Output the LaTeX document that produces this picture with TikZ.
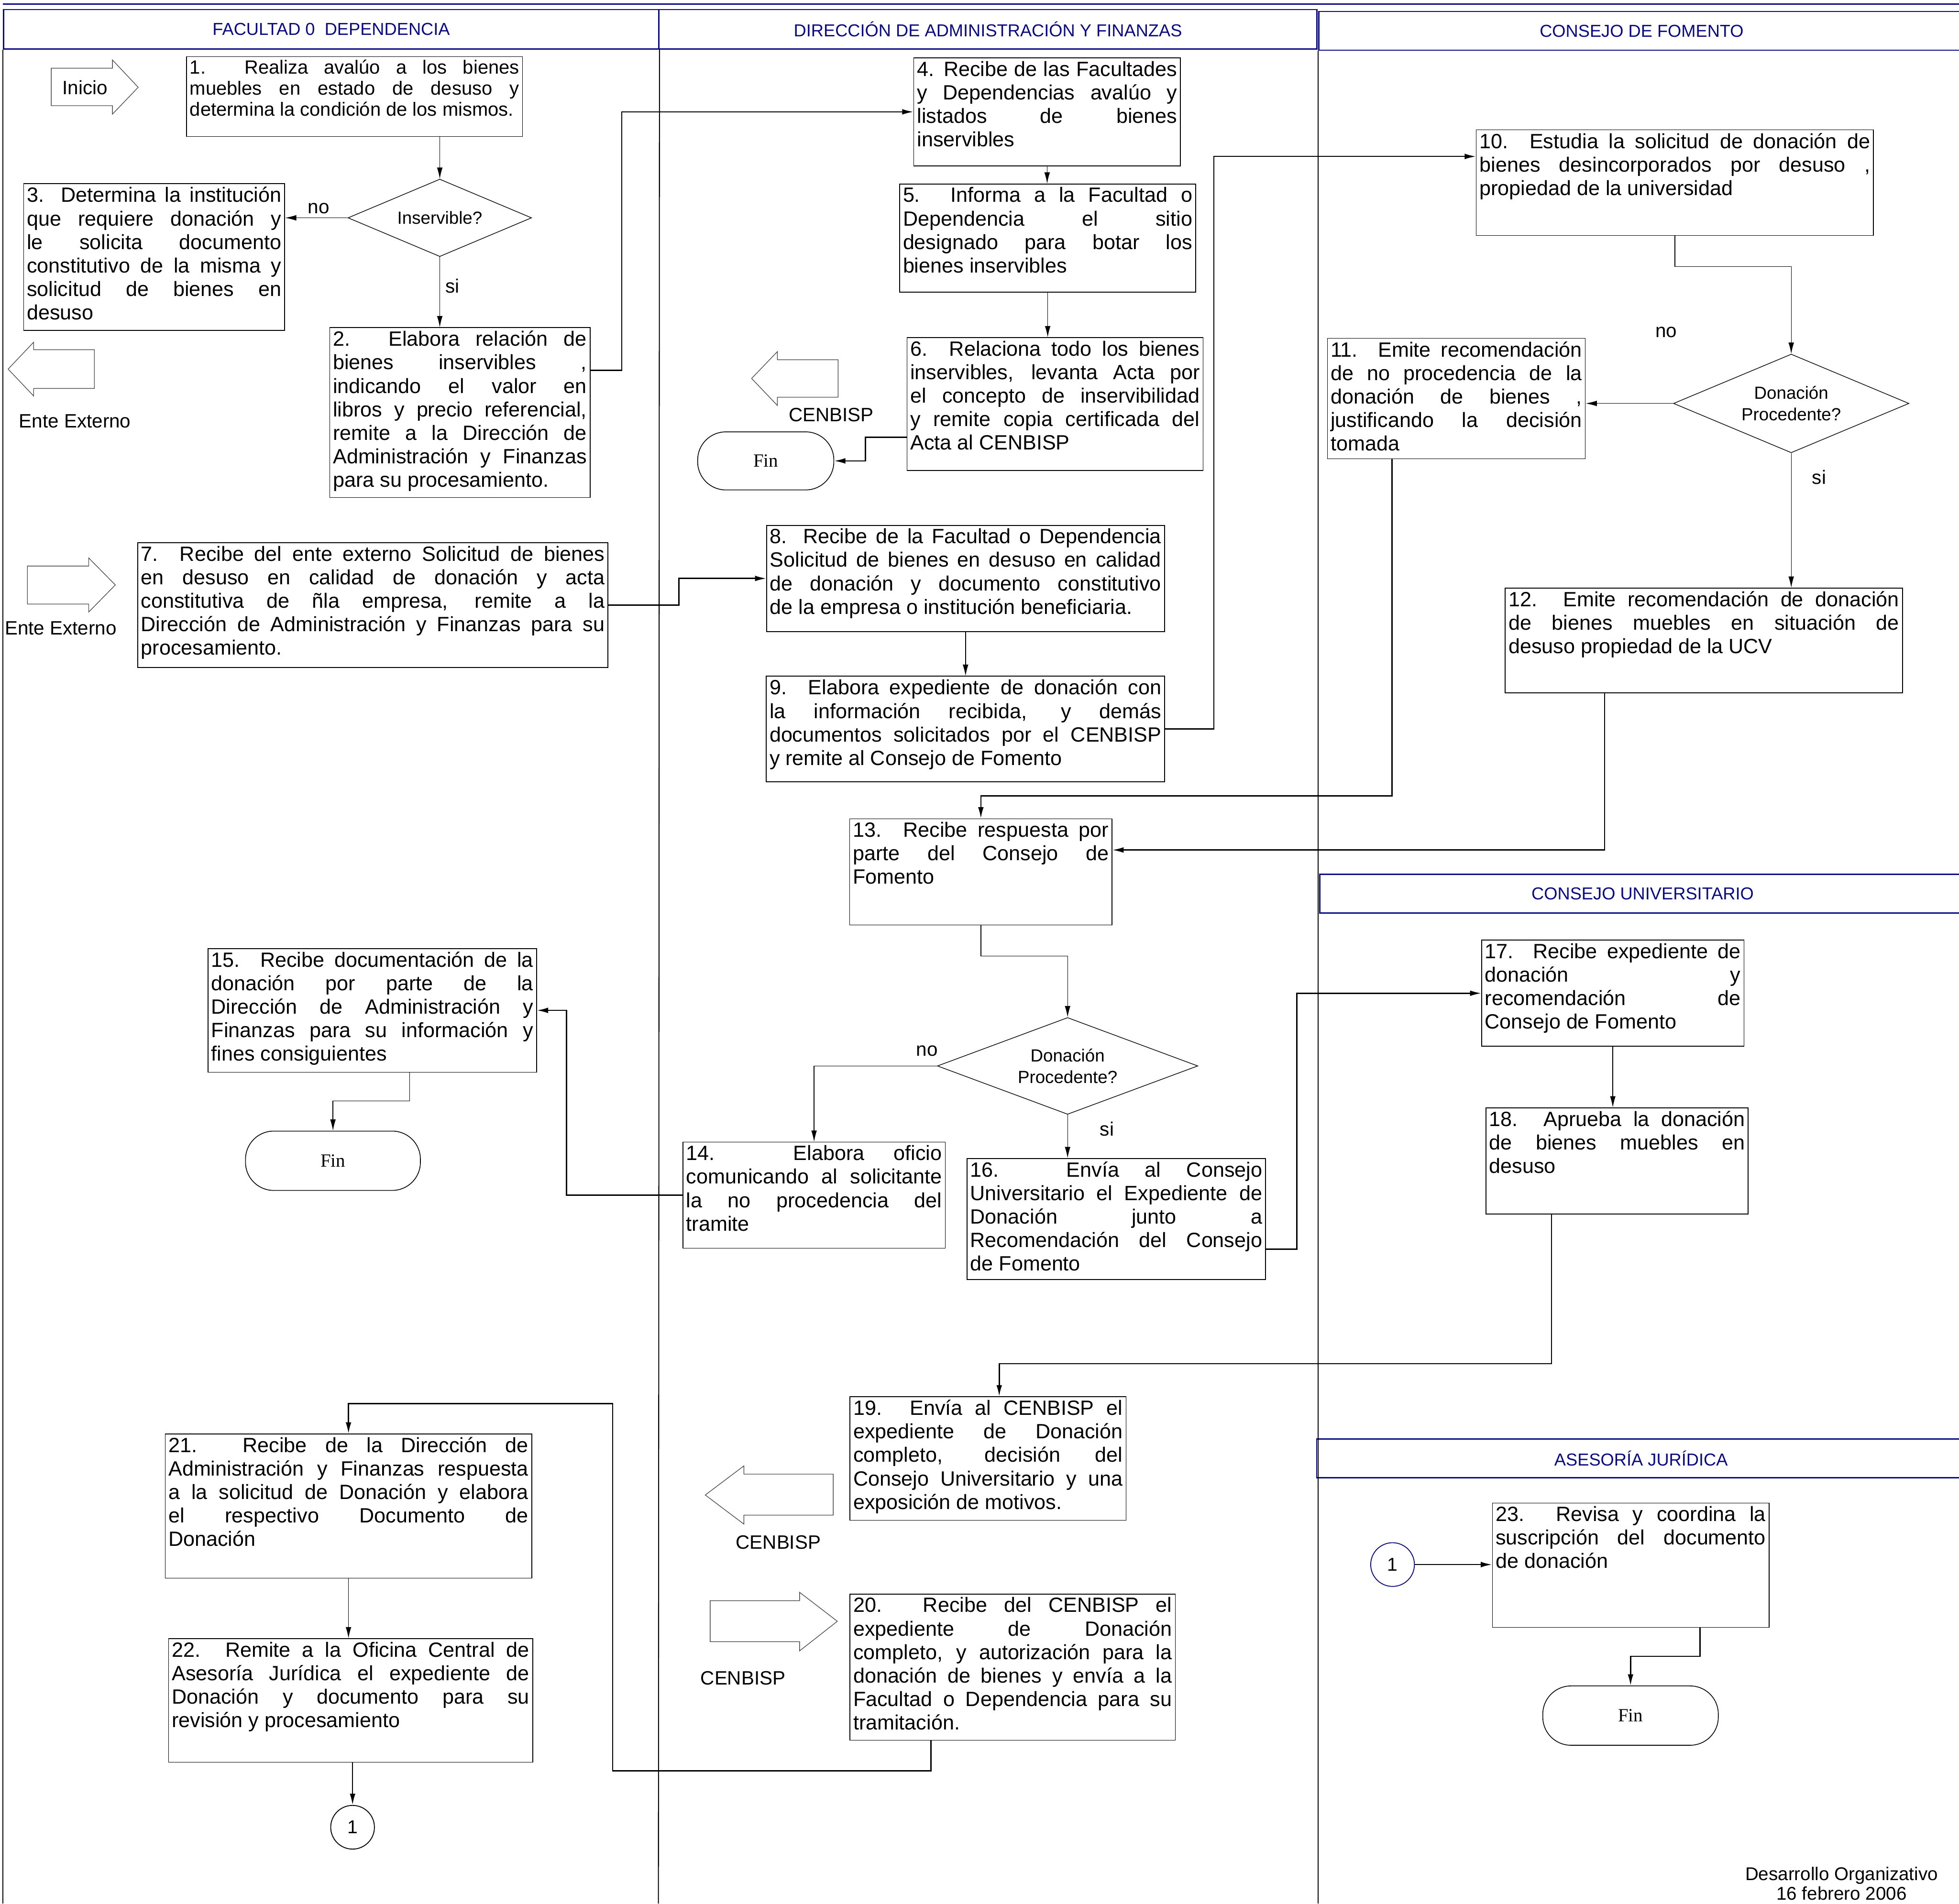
\documentclass[tikz,border=0pt]{standalone}
\usepackage{fontspec}
\setmainfont{Liberation Sans}
\newfontfamily\finfont{Liberation Serif}
\usetikzlibrary{shapes.geometric,arrows.meta}
\definecolor{azulcab}{RGB}{10,10,130}
\newcommand{\caja}[3]{\parbox[c][\dimexpr#2cm-3pt\relax][t]{\dimexpr#1cm-3pt\relax}{\hyphenpenalty=10000\tolerance=10000 #3}}
\tikzset{
  paso/.style={draw, line width=0.35pt, anchor=north west, inner sep=1.5pt, font=\fontsize{9.4}{10.7}\selectfont},
  carril/.style={draw=azulcab, text=azulcab, line width=0.6pt, anchor=north west, inner sep=0pt, minimum height=0.63cm, font=\fontsize{7.9}{9}\selectfont},
  decision/.style={draw, diamond, aspect=2.4, inner sep=0pt, line width=0.3pt, align=center, font=\fontsize{8}{9.8}\selectfont},
  terminal/.style={draw, rectangle, rounded corners=0.45cm, line width=0.35pt, font=\finfont\fontsize{8.5}{10}\selectfont},
  conector/.style={draw, circle, minimum size=0.7cm, inner sep=0pt, line width=0.4pt, font=\fontsize{8.5}{9}\selectfont},
  etiqueta/.style={inner sep=0pt, font=\fontsize{8.8}{9.5}\selectfont},
  bloque/.style={draw=black!70, line width=0.3pt},
  linea/.style={line width=0.45pt},
  flecha/.style={-{Latex[length=1.8mm,width=0.9mm]}, line width=0.55pt},
  flechafina/.style={-{Latex[length=1.8mm,width=0.9mm]}, line width=0.3pt}
}
\begin{document}
\begin{tikzpicture}[x=0.02cm, y=-0.02cm]
\useasboundingbox (0,0) rectangle (1568,1524);
\draw[azulcab, line width=0.6pt] (2.4,3.4) -- (1568,3.4);
\node[carril, minimum width=10.49cm] (c1) at (2.4,7.1) {FACULTAD 0 \ DEPENDENCIA};
\node[carril, minimum width=10.53cm] (c2) at (527,7.1) {DIRECCIÓN DE ADMINISTRACIÓN Y FINANZAS};
\node[carril, minimum width=10.34cm, minimum height=0.62cm] (c3) at (1055,8.7) {CONSEJO DE FOMENTO};
\node[carril, minimum width=10.34cm, minimum height=0.62cm] (c4) at (1055.8,699.5) {CONSEJO UNIVERSITARIO};
\node[carril, minimum width=10.39cm, minimum height=0.62cm] (c5) at (1053.3,1151.6) {ASESORÍA JURÍDICA};
\draw[linea] (c1.south west) -- (2.4,1524);
\draw[linea] (c1.south east) -- (527,1524);
\draw[linea] (c3.south west) -- (1055,1524);

\draw[bloque] (41,54.6) -- (90,54.6) -- (90,48) -- (110.6,69.9) -- (90,91.4) -- (90,84.6) -- (41,84.6) -- cycle;
\node[etiqueta] (inicio) at (68,70) {Inicio};
\node[paso] (p1) at (149,45) {\caja{5.38}{1.28}{\fontsize{8.7}{9.6}\selectfont 1. Realiza avalúo a los bienes\linebreak muebles en estado de desuso y\linebreak determina la condición de los mismos.}};
\node[decision, minimum width=2.94cm, minimum height=1.24cm] (d1) at (352,174.4) {Inservible?};
\node[paso] (p3) at (18.6,146.8) {\caja{4.18}{2.35}{3. Determina la institución\linebreak que requiere donación y\linebreak le solicita documento\linebreak constitutivo de la misma y\linebreak solicitud de bienes en\linebreak desuso}};
\node[paso] (p2) at (263.6,262) {\caja{4.17}{2.72}{2. Elabora relación de\linebreak bienes inservibles ,\linebreak indicando el valor en\linebreak libros y precio referencial,\linebreak remite a la Dirección de\linebreak Administración y Finanzas\linebreak para su procesamiento.}};
\draw[bloque] (75.5,280) -- (26.9,280) -- (26.9,274) -- (6.5,295.5) -- (26.9,317) -- (26.9,311) -- (75.5,311) -- cycle;
\node[etiqueta] (ext1) at (60,337) {Ente Externo};
\draw[bloque] (21.9,453.2) -- (71,453.2) -- (71,446.7) -- (92.3,468.3) -- (71,490) -- (71,483.6) -- (21.9,483.6) -- cycle;
\node[etiqueta] (ext2) at (48.6,503) {Ente Externo};
\node[paso] (p7) at (109.9,434.2) {\caja{7.53}{2.00}{7. Recibe del ente externo Solicitud de bienes\linebreak en desuso en calidad de donación y acta\linebreak constitutiva de ñla empresa, remite a la\linebreak Dirección de Administración y Finanzas para su\linebreak procesamiento.}};
\node[paso] (p15) at (166.2,759.1) {\caja{5.26}{1.98}{15. Recibe documentación de la\linebreak donación por parte de la\linebreak Dirección de Administración y\linebreak Finanzas para su información y\linebreak fines consiguientes}};
\node[terminal, minimum width=2.8cm, minimum height=0.95cm] (fin2) at (266.5,929.3) {Fin};
\node[paso] (p21) at (131.9,1147.7) {\caja{5.87}{2.31}{21. Recibe de la Dirección de\linebreak Administración y Finanzas respuesta\linebreak a la solicitud de Donación y elabora\linebreak el respectivo Documento de\linebreak Donación}};
\node[paso] (p22) at (134.6,1311.6) {\caja{5.83}{1.98}{22. Remite a la Oficina Central de\linebreak Asesoría Jurídica el expediente de\linebreak Donación y documento para su\linebreak revisión y procesamiento}};
\node[conector] (con1a) at (282.2,1462.9) {1};

\node[paso] (p4) at (731.1,46) {\caja{4.27}{1.73}{4. Recibe de las Facultades\linebreak y Dependencias avalúo y\linebreak listados de bienes\linebreak inservibles}};
\node[paso] (p5) at (719.8,147) {\caja{4.74}{1.73}{5. Informa a la Facultad o\linebreak Dependencia el sitio\linebreak designado para botar los\linebreak bienes inservibles}};
\node[paso] (p6) at (725.7,270) {\caja{4.74}{2.13}{6. Relaciona todo los bienes\linebreak inservibles, levanta Acta por\linebreak el concepto de inservibilidad\linebreak y remite copia certificada del\linebreak Acta al CENBISP}};
\draw[bloque] (670.8,288) -- (622.2,288) -- (622.2,281.5) -- (601.6,303) -- (622.2,324.6) -- (622.2,318) -- (670.8,318) -- cycle;
\node[etiqueta] (cen1) at (665.3,332.2) {CENBISP};
\node[terminal, minimum width=2.18cm, minimum height=0.93cm] (fin1) at (612.9,369) {Fin};
\node[paso] (p8) at (613.3,420.3) {\caja{6.37}{1.70}{8. Recibe de la Facultad o Dependencia\linebreak Solicitud de bienes en desuso en calidad\linebreak de donación y documento constitutivo\linebreak de la empresa o institución beneficiaria.}};
\node[paso] (p9) at (613,541.1) {\caja{6.38}{1.69}{9. Elabora expediente de donación con\linebreak la información recibida, y demás\linebreak documentos solicitados por el CENBISP\linebreak y remite al Consejo de Fomento}};
\node[paso] (p13) at (679.8,655.2) {\caja{4.20}{1.70}{13. Recibe respuesta por\linebreak parte del Consejo de\linebreak Fomento}};
\node[decision, minimum width=4.17cm, minimum height=1.55cm] (d3) at (854.5,853.4) {Donación\\Procedente?};
\node[paso] (p14) at (546.3,914.1) {\caja{4.20}{1.70}{14. Elabora oficio\linebreak comunicando al solicitante\linebreak la no procedencia del\linebreak tramite}};
\node[paso] (p16) at (773.7,927.2) {\caja{4.78}{1.94}{16. Envía al Consejo\linebreak Universitario el Expediente de\linebreak Donación junto a\linebreak Recomendación del Consejo\linebreak de Fomento}};
\node[paso] (p19) at (680,1117.9) {\caja{4.42}{1.98}{19. Envía al CENBISP el\linebreak expediente de Donación\linebreak completo, decisión del\linebreak Consejo Universitario y una\linebreak exposición de motivos.}};
\draw[bloque] (666.9,1180.2) -- (595.4,1180.2) -- (595.4,1173.6) -- (564.5,1196.9) -- (595.4,1220.2) -- (595.4,1213) -- (666.9,1213) -- cycle;
\node[etiqueta] (cen2) at (623,1234.9) {CENBISP};
\node[paso] (p20) at (680,1275.9) {\caja{5.21}{2.34}{20. Recibe del CENBISP el\linebreak expediente de Donación\linebreak completo, y autorización para la\linebreak donación de bienes y envía a la\linebreak Facultad o Dependencia para su\linebreak tramitación.}};
\draw[bloque] (568.4,1281.5) -- (640,1281.5) -- (640,1274.8) -- (670.2,1298) -- (640,1321.7) -- (640,1314.3) -- (568.4,1314.3) -- cycle;
\node[etiqueta] (cen3) at (594.7,1343.6) {CENBISP};

\node[paso] (p10) at (1181.3,103.7) {\caja{6.36}{1.69}{10. Estudia la solicitud de donación de\linebreak bienes desincorporados por desuso ,\linebreak propiedad de la universidad}};
\node[decision, minimum width=3.77cm, minimum height=1.58cm] (d2) at (1433.7,323) {Donación\\Procedente?};
\node[paso] (p11) at (1062.1,270.5) {\caja{4.13}{1.93}{11. Emite recomendación\linebreak de no procedencia de la\linebreak donación de bienes ,\linebreak justificando la decisión\linebreak tomada}};
\node[paso] (p12) at (1204.5,470.5) {\caja{6.36}{1.68}{12. Emite recomendación de donación\linebreak de bienes muebles en situación de\linebreak desuso propiedad de la UCV}};
\node[paso] (p17) at (1185.6,752.4) {\caja{4.20}{1.70}{17. Recibe expediente de\linebreak donación y\linebreak recomendación de\linebreak Consejo de Fomento}};
\node[paso] (p18) at (1189,886.6) {\caja{4.20}{1.70}{18. Aprueba la donación\linebreak de bienes muebles en\linebreak desuso}};
\node[conector, draw=azulcab] (con1b) at (1114.6,1252.6) {1};
\node[paso] (p23) at (1194.2,1203.1) {\caja{4.43}{1.99}{23. Revisa y coordina la\linebreak suscripción del documento\linebreak de donación}};
\node[terminal, minimum width=2.81cm, minimum height=0.95cm] (fin3) at (1305.1,1373.5) {Fin};
\node[etiqueta, align=center, font=\fontsize{8.4}{9}\selectfont] (pie) at (1474,1508) {Desarrollo Organizativo\\16 febrero 2006};

\node[etiqueta] (no1) at (255,167) {no};
\node[etiqueta] (si1) at (362,229) {si};
\node[etiqueta] (no2) at (1333.5,266) {no};
\node[etiqueta] (si2) at (1456,382) {si};
\node[etiqueta] (no3) at (742,841.5) {no};
\node[etiqueta] (si3) at (886,904) {si};

\draw[flechafina] (p1.south -| d1.north) -- (d1.north);
\draw[flechafina] (d1.west) -- (d1.west -| p3.east);
\draw[flechafina] (d1.south) -- (d1.south |- p2.north);
\draw[flecha] ([yshift=0.675cm]p2.east) -- ++(25,0) |- (p4.west);
\draw[flechafina] (p4.south) -- (p4.south |- p5.north);
\draw[flechafina] (p5.south) -- (p5.south |- p6.north);
\draw[flecha] ([yshift=-0.53cm]p6.west) -- ++(-33,0) |- (fin1.east);
\draw[flecha] (p7.east) -- ++(56.4,0) |- (p8.west);
\draw[flechafina] (p8.south) -- (p8.south |- p9.north);
\draw[flecha] (p9.east) -- ++(39,0) |- ([yshift=0.42cm]p10.west);
\draw[flechafina] (p10.south) -- ++(0,24.7) -| (d2.north);
\draw[flechafina] (d2.west) -- (d2.west -| p11.east);
\draw[flechafina] (d2.south) -- (d2.south |- p12.north);
\draw[flecha] ([xshift=-1.03cm]p11.south) -- ++(0,269.5) -| (p13.north);
\draw[flecha] ([xshift=-1.59cm]p12.south) |- ([yshift=0.35cm]p13.east);
\draw[flechafina] (p13.south) -- ++(0,24.6) -| (d3.north);
\draw[flechafina] (d3.west) -| (p14.north);
\draw[flechafina] (d3.south) -- (d3.south |- p16.north);
\draw[flecha] (p14.west) -- ++(-92.8,0) |- (p15.east);
\draw[flechafina] ([xshift=0.6cm]p15.south) -- ++(0,22.7) -| (fin2.north);
\draw[flecha] ([yshift=-0.48cm]p16.east) -- ++(24.8,0) |- (p17.west);
\draw[flechafina] (p17.south) -- (p17.south |- p18.north);
\draw[flecha] ([xshift=-1.05cm]p18.south) -- ++(0,119.5) -| ([xshift=0.18cm]p19.north);
\draw[flecha] ([xshift=-1.31cm]p20.south) -- ++(0,24.2) -- ++(-254.7,0) -- ++(0,-293.9) -| (p21.north);
\draw[flechafina] (p21.south) -- (p21.south |- p22.north);
\draw[flecha] (p22.south -| con1a.north) -- (con1a.north);
\draw[flecha] (con1b.east) -- (con1b.east -| p23.west);
\draw[flecha] ([xshift=1.11cm]p23.south) -- ++(0,22.8) -| (fin3.north);
\end{tikzpicture}
\end{document}
